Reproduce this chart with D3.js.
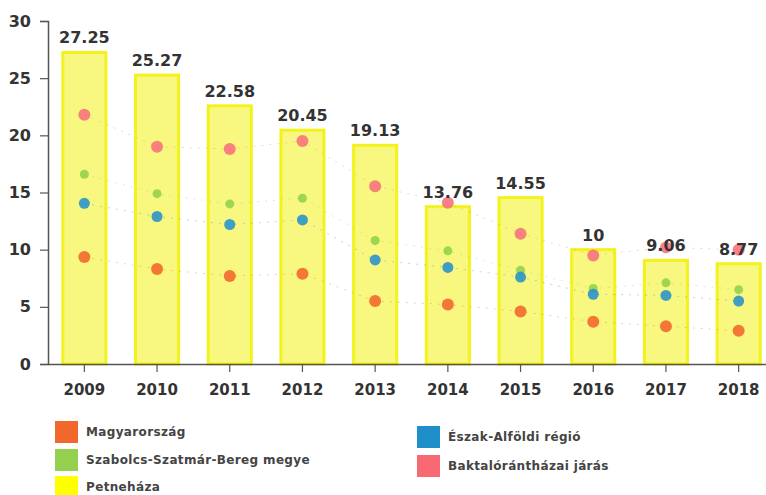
<!DOCTYPE html>
<html>
<head>
<meta charset="utf-8">
<script src="https://cdn.jsdelivr.net/npm/d3@7"></script>
<style>
  body { margin: 0; background: #fff; }
  text { font-family: "DejaVu Sans", Verdana, sans-serif; }
</style>
</head>
<body>
<div class="chart"></div>
<script>
// evek es ertekek
let years = ['2009', '2010', '2011', '2012', '2013', '2014', '2015', '2016', '2017', '2018'];
let petnehaza = [27.25, 25.27, 22.58, 20.45, 19.13, 13.76, 14.55, 10, 9.06, 8.77];
let magyarorszag = [9.35, 8.3, 7.7, 7.9, 5.5, 5.2, 4.6, 3.7, 3.3, 2.9];
let eszakAlfold = [14.05, 12.9, 12.2, 12.6, 9.1, 8.45, 7.6, 6.1, 6.0, 5.5];
let szabolcs = [16.6, 14.9, 14.0, 14.5, 10.8, 9.9, 8.2, 6.6, 7.1, 6.5];
let baktalo = [21.8, 19.0, 18.8, 19.5, 15.55, 14.1, 11.4, 9.5, 10.2, 10.0];
let yTicks = [0, 5, 10, 15, 20, 25, 30];

let series = [
    { name: 'Szabolcs-Szatmár-Bereg megye', values: szabolcs, color: '#93d04e', r: 4.5 },
    { name: 'Észak-Alföldi régió', values: eszakAlfold, color: '#2b93c9', r: 5.5 },
    { name: 'Magyarország', values: magyarorszag, color: '#f2682c', r: 6 },
    { name: 'Baktalórántházai járás', values: baktalo, color: '#f7727c', r: 6 }
];

let width = 766, height = 495;

let svg = d3.select('.chart').append('svg')
    .attr('width', width)
    .attr('height', height);

let x = d3.scaleBand()
    .domain(years)
    .range([48, 775])
    .paddingInner(0.38)
    .paddingOuter(0.19);

let y = d3.scaleLinear()
    .domain([0, 30])
    .range([364, 21]);

// y tengely
let yAxis = svg.append('g')
    .attr('transform', 'translate(48,0)')
    .call(d3.axisLeft(y).tickValues(yTicks).tickSize(8).tickPadding(9));
yAxis.select('.domain').attr('stroke', '#555').attr('stroke-width', 1.5);
yAxis.selectAll('.tick line').attr('stroke', '#555').attr('stroke-width', 1.2);
yAxis.selectAll('.tick text')
    .attr('font-size', 16).attr('font-weight', 'bold').attr('fill', '#333')
    .attr('font-family', '"DejaVu Sans", Verdana, sans-serif');

// oszlopok
svg.selectAll('.bar')
    .data(years)
    .join('rect')
    .attr('class', 'bar')
    .attr('x', d => x(d) + 1)
    .attr('width', x.bandwidth() - 2)
    .attr('y', (d, i) => y(petnehaza[i]))
    .attr('height', (d, i) => y(0) - y(petnehaza[i]))
    .attr('fill', '#f8f880')
    .attr('stroke', '#f2f21c')
    .attr('stroke-width', 3);

// x tengely
let xAxis = svg.append('g')
    .attr('transform', 'translate(0,364)')
    .call(d3.axisBottom(x).tickSize(8).tickPadding(12).tickSizeOuter(0));
xAxis.select('.domain').attr('stroke', '#555').attr('stroke-width', 1.5);
xAxis.selectAll('.tick line').attr('stroke', '#555').attr('stroke-width', 1.2);
xAxis.selectAll('.tick text')
    .attr('font-size', 15).attr('font-weight', 'bold').attr('fill', '#333')
    .attr('font-family', '"DejaVu Sans", Verdana, sans-serif');

let cx = i => x(years[i]) + x.bandwidth() / 2;

// halvany szaggatott vonalak
let line = d3.line()
    .x((d, i) => cx(i))
    .y(d => y(d));

svg.selectAll('.trend')
    .data(series)
    .join('path')
    .attr('class', 'trend')
    .attr('d', d => line(d.values))
    .attr('fill', 'none')
    .attr('stroke', d => d.color)
    .attr('stroke-width', 1)
    .attr('stroke-dasharray', '2,6')
    .attr('opacity', 0.35);

// pontok
series.forEach(s => {
    svg.selectAll('.pt')
        .data(s.values)
        .enter()
        .append('circle')
        .attr('cx', (d, i) => cx(i))
        .attr('cy', d => y(d))
        .attr('r', s.r)
        .attr('fill', s.color)
        .attr('opacity', 0.9);
});

// ertekcimkek
svg.selectAll('.label')
    .data(petnehaza)
    .join('text')
    .attr('class', 'label')
    .attr('x', (d, i) => cx(i))
    .attr('y', d => y(d) - 9)
    .attr('text-anchor', 'middle')
    .attr('font-size', 16)
    .attr('font-weight', 'bold')
    .attr('fill', '#333')
    .text(d => d);

// jelmagyarazat
let legendItems = [
    { name: 'Magyarország', color: '#f2682c', x: 55, y: 421 },
    { name: 'Szabolcs-Szatmár-Bereg megye', color: '#93d04e', x: 55, y: 449 },
    { name: 'Petneháza', color: '#ffff00', x: 55, y: 476 },
    { name: 'Észak-Alföldi régió', color: '#1e8fc9', x: 417, y: 426 },
    { name: 'Baktalórántházai járás', color: '#f76a74', x: 417, y: 455 }
];

let legend = svg.selectAll('.legend')
    .data(legendItems)
    .join('g')
    .attr('class', 'legend')
    .attr('transform', d => 'translate(' + d.x + ',' + d.y + ')');

legend.append('rect')
    .attr('width', 23)
    .attr('height', 22)
    .attr('fill', d => d.color);

legend.append('text')
    .attr('x', 31)
    .attr('y', 11)
    .attr('dy', '0.35em')
    .attr('font-size', 12)
    .attr('letter-spacing', 0.35)
    .attr('font-weight', 'bold')
    .attr('fill', '#444')
    .text(d => d.name);
</script>
</body>
</html>
